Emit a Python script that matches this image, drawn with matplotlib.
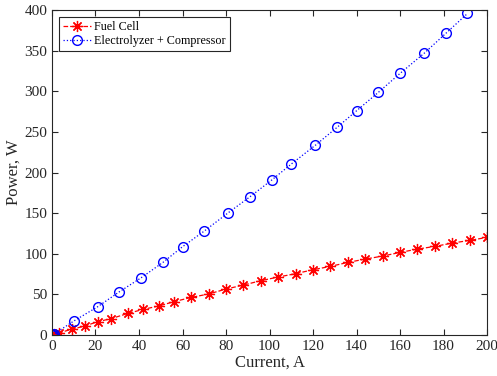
import matplotlib
matplotlib.use("Agg")
import matplotlib.pyplot as plt

plt.rcParams['font.family'] = ['Liberation Serif', 'DejaVu Serif']

# Fuel cell (current A, power W)
fc_current = [0, 1, 3, 9, 15, 21, 27, 35, 42, 49, 56, 64, 72, 80, 88,
              96, 104, 112, 120, 128, 136, 144, 152, 160, 168, 176, 184, 192, 200]
fc_power = [0, 0.8, 2.5, 7, 11, 16.4, 20, 26.7, 31.6, 35.7, 41, 46.3, 50.5, 56.6, 61.5,
            66.9, 71.4, 75.5, 80.4, 84.5, 89.4, 93.5, 97.2, 101.7, 105.8, 109.1, 113.2, 116.5, 120.2]

# Electrolyzer + compressor
el_current = [0, 0.5, 1, 10, 21, 31, 41, 51, 60, 70, 81, 91, 101, 110,
              121, 131, 140, 150, 160, 171, 181, 191]
el_power = [0, 0.6, 1.2, 17.2, 34.8, 53.3, 70.5, 89.4, 108.7, 128, 150.5, 170.2, 190.8, 210.5,
            233.5, 255.6, 276.1, 298.7, 322.1, 346.7, 371.3, 395.9]

fig = plt.figure(figsize=(4.97, 3.76), dpi=100)
ax = fig.add_axes([0.1046, 0.109, 0.8754, 0.864])

# asterisk like MATLAB '*'
ax.plot(fc_current, fc_power, linestyle='--', color=(1, 0, 0), marker=(8, 2, 0),
        markersize=8, markeredgewidth=0.9, linewidth=0.9, label='Fuel Cell')
ax.plot(el_current, el_power, linestyle=':', color=(0, 0, 1), marker='o',
        markersize=7, markerfacecolor='none', markeredgewidth=1.0,
        linewidth=0.9, label='Electrolyzer + Compressor')

ax.set_xlim(0, 200)
ax.set_ylim(0, 400)
ax.set_xticks(range(0, 201, 20))
ax.set_yticks(range(0, 401, 50))
ax.tick_params(direction='in', top=True, right=True, length=4.5, width=0.8,
               colors='#262626', labelsize=11, labelcolor='#262626')
for s in ax.spines.values():
    s.set_color('#262626')
    s.set_linewidth(0.8)

ax.set_xlabel('Current, A', fontsize=12, color='#262626', labelpad=1)
ax.set_ylabel('Power, W', fontsize=12, color='#262626', labelpad=2)

leg = ax.legend(loc='upper left', fontsize=8.7, fancybox=False, framealpha=1,
                edgecolor='#262626', borderpad=0.3, handlelength=2.3,
                handletextpad=0.3, labelspacing=0.2, borderaxespad=0.6)
leg.get_frame().set_linewidth(0.8)

fig.savefig('out.png', dpi=100)
